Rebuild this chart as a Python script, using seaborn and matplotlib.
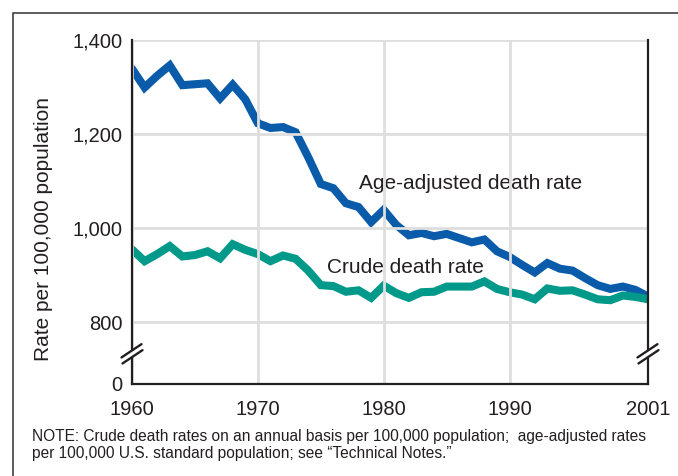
import matplotlib
matplotlib.use("Agg")
import matplotlib.pyplot as plt
import matplotlib.patches as mpatches
from matplotlib.transforms import blended_transform_factory
import pandas as pd
import seaborn as sns

# values
years = list(range(1960, 2002))
age_adjusted = [1339, 1299, 1324, 1346, 1304, 1306, 1308, 1276, 1305, 1274,
                1223, 1213, 1215, 1204, 1151, 1094, 1085, 1053, 1045, 1013,
                1039, 1007, 985, 990, 983, 988, 979, 970, 976, 951,
                939, 922, 906, 926, 914, 910, 894, 879, 871, 876,
                869, 855]
crude = [955, 930, 945, 962, 940, 943, 951, 936, 966, 954,
         945, 930, 942, 935, 910, 879, 877, 865, 868, 852,
         878, 862, 852, 864, 865, 876, 876, 876, 887, 871,
         864, 859, 849, 872, 867, 868, 859, 849, 847, 857,
         854, 849]
series_names = ["Age-adjusted death rate", "Crude death rate"]
series_colors = ["#0A5CAA", "#00998A"]
x_ticks = [1960, 1970, 1980, 1990, 2001]
y_ticks = [670, 800, 1000, 1200, 1400]  # 670 stands for the broken-axis zero
y_tick_labels = ["0", "800", "1,000", "1,200", "1,400"]
note = ("NOTE: Crude death rates on an annual basis per 100,000 population;  age-adjusted rates\n"
        "per 100,000 U.S. standard population; see \u201cTechnical Notes.\u201d")

df = pd.DataFrame({
    "year": years * 2,
    "rate": age_adjusted + crude,
    "series": [series_names[0]] * len(years) + [series_names[1]] * len(years),
})

sns.set_theme(style="white")
plt.rcParams["font.family"] = ["Liberation Sans", "DejaVu Sans"]
ink = "#231F20"

fig = plt.figure(figsize=(6.78, 4.76), dpi=100)
ax = fig.add_axes([132 / 678, 1 - 383.5 / 476, 516 / 678, 343.5 / 476])

sns.lineplot(data=df, x="year", y="rate", hue="series", palette=series_colors,
             linewidth=5.8, legend=False, ax=ax)
for line in ax.get_lines():
    line.set_solid_joinstyle("miter")

ax.set_xlim(1960, 2001)
ax.set_ylim(670, 1400)
ax.set_xticks(x_ticks)
ax.set_xticklabels([str(t) for t in x_ticks])
ax.set_yticks(y_ticks)
ax.set_yticklabels(y_tick_labels)
ax.tick_params(axis="both", length=0, labelsize=14.5, colors=ink)
ax.tick_params(axis="y", pad=7)
ax.tick_params(axis="x", pad=12)
ax.set_xlabel("")
ax.set_ylabel("Rate per 100,000 population", fontsize=15, color=ink, va="center")
ax.yaxis.set_label_coords(-0.171, 0.45)

# grid sits on top of the data lines as in the print original
ax.set_axisbelow(False)
ax.grid(True, color="#DEDEDE", linewidth=2)
ax.xaxis.set_zorder(4)
ax.yaxis.set_zorder(4)
for side in ["left", "right", "bottom"]:
    ax.spines[side].set_color(ink)
    ax.spines[side].set_linewidth(1.6)
    ax.spines[side].set_zorder(5)
ax.spines["top"].set_visible(False)

ax.text(1978.0, 1094, series_names[0], fontsize=15, color=ink, va="center", zorder=3)
ax.text(1975.5, 917, series_names[1], fontsize=15, color=ink, va="center", zorder=3)

# axis-break marks on both vertical spines
fig.canvas.draw()
trans = blended_transform_factory(ax.transAxes, ax.transData)
for xa in [0, 1]:
    cx, cy = trans.transform((xa, 733))
    up = [(-10.5, -3.6), (9.5, 9.7)]
    lo = [(-9.5, -9.6), (10.5, 3.7)]
    poly = [(cx + dx, cy + dy) for dx, dy in [up[0], up[1], lo[1], lo[0]]]
    fig.patches.append(mpatches.Polygon(poly, closed=True, facecolor="white",
                                        edgecolor="none", transform=None, zorder=6))
    for seg in [up, lo]:
        fig.lines.append(plt.Line2D([cx + seg[0][0], cx + seg[1][0]],
                                    [cy + seg[0][1], cy + seg[1][1]],
                                    color=ink, linewidth=1.7, transform=None, zorder=7))

# outer frame of the figure panel
fig.patches.append(mpatches.Rectangle((13 / 678, -0.1), 1.2, 1.1 - 13 / 476,
                                      transform=fig.transFigure, fill=False,
                                      edgecolor="#333333", linewidth=1.1, zorder=0))

fig.text(32.4 / 678, 1 - 429.5 / 476, note, fontsize=11.2, color=ink, va="top",
         ha="left", linespacing=1.15)

fig.savefig("out.png", dpi=100)
